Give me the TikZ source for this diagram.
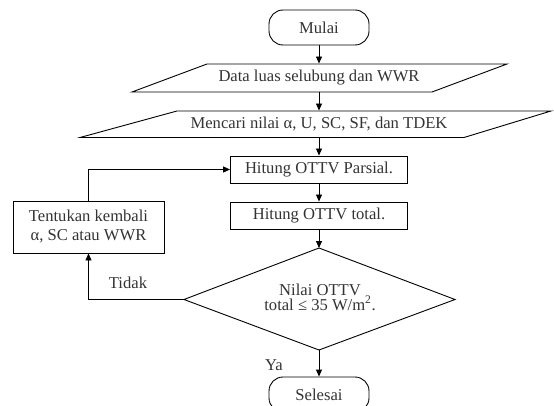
\documentclass[tikz,border=0pt]{standalone}
\usepackage{fontspec}
\setmainfont{Liberation Serif}
\usetikzlibrary{arrows.meta}
\begin{document}
\begin{tikzpicture}[x=1pt,y=-1pt, line width=0.9pt,
  >={Triangle[length=7pt,width=6pt]},
  txt/.style={font=\fontsize{16.6}{19}\selectfont, text=black!80},
  term/.style={txt, draw, rounded corners=14pt, minimum width=100pt, minimum height=35pt, inner sep=0pt},
  procbox/.style={txt, draw, minimum width=177pt, minimum height=27pt, inner sep=0pt},
  iotext/.style={txt, inner sep=0pt},
  lbl/.style={txt, inner sep=0pt}]
\useasboundingbox (0,0) rectangle (554,406);

% start
\node[term] (start) at (319,27.5) {Mulai};

% input 1
\node[iotext, minimum height=28pt] (p1) at (319,78) {Data luas selubung dan WWR};
\draw (207,64) -- (507,64) -- (432,92) -- (132,92) -- cycle;

% input 2
\node[iotext, minimum height=26.5pt] (p2) at (319,124.25) {Mencari nilai α, U, SC, SF, dan TDEK};
\draw (177,111) -- (551,111) -- (464,137.5) -- (80,137.5) -- cycle;

% process boxes
\node[procbox] (b1) at (319,169.5) {Hitung OTTV Parsial.};
\node[procbox] (b2) at (319,215.5) {Hitung OTTV total.};

% decision
\coordinate (dt) at (319,248);
\coordinate (dl) at (184,299.5);
\coordinate (dr) at (455,299.5);
\coordinate (db) at (319,350);
\draw (dt) -- (dr) -- (db) -- (dl) -- cycle;
\node[txt, align=center, inner sep=0pt, font=\fontsize{16.6}{11.5}\selectfont] (d) at (320,297) {Nilai OTTV\\total ≤ 35 W/m\textsuperscript{2}.};

% left box
\node[txt, draw, align=center, minimum width=151pt, minimum height=52pt, inner sep=0pt] (lb) at (88.5,227) {Tentukan kembali\\α, SC atau WWR};

% end
\node[term] (end) at (319,394.5) {Selesai};

% connectors
\draw[->] (start) -- (p1);
\draw[->] (p1) -- (p2);
\draw[->] (p2) -- (b1);
\draw[->] (b1) -- (b2);
\draw[->] (b2) -- (dt);
\draw[->] (db) -- (end);
\draw[->] (dl) -| (lb.south);
\draw[->] (lb.north) |- (b1.west);

% labels
\node[lbl] (tidak) at (128,283) {Tidak};
\node[lbl] (ya) at (274,365) {Ya};
\end{tikzpicture}
\end{document}
